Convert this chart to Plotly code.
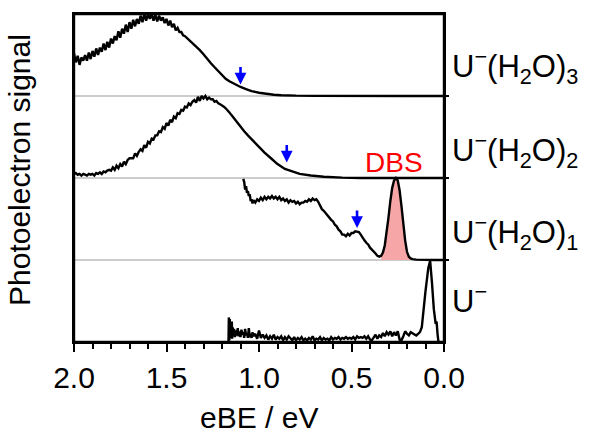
import plotly.graph_objects as go

# ---------------- data ----------------
species_labels = ["U<sup>−</sup>", "U<sup>−</sup>(H<sub>2</sub>O)<sub>1</sub>",
                  "U<sup>−</sup>(H<sub>2</sub>O)<sub>2</sub>", "U<sup>−</sup>(H<sub>2</sub>O)<sub>3</sub>"]
tick_values = [2.0, 1.5, 1.0, 0.5, 0.0]
tick_labels = ["2.0", "1.5", "1.0", "0.5", "0.0"]
minor_values = [1.9, 1.8, 1.7, 1.6, 1.4, 1.3, 1.2, 1.1, 0.9, 0.8, 0.7, 0.6, 0.4, 0.3, 0.2, 0.1]

# U-(H2O)3
x_u3 = [2.00, 1.99, 1.98, 1.97, 1.96, 1.95, 1.94, 1.93, 1.92, 1.91,
        1.90, 1.89, 1.88, 1.87, 1.86, 1.85, 1.84, 1.83, 1.82, 1.81,
        1.80, 1.79, 1.78, 1.77, 1.76, 1.75, 1.74, 1.73, 1.72, 1.71,
        1.70, 1.69, 1.68, 1.67, 1.66, 1.65, 1.64, 1.63, 1.62, 1.61,
        1.60, 1.59, 1.58, 1.57, 1.56, 1.55, 1.54, 1.53, 1.52, 1.51,
        1.50, 1.49, 1.48, 1.47, 1.46, 1.45, 1.44, 1.43, 1.42, 1.41,
        1.40, 1.38, 1.35, 1.32, 1.30, 1.28, 1.26, 1.24, 1.22, 1.20,
        1.18, 1.16, 1.14, 1.12, 1.10, 1.07, 1.04, 1.00, 0.96, 0.92,
        0.88, 0.84, 0.80, 0.70, 0.60, 0.40, 0.20, 0.00]
y_u3 = [0.52, 0.41, 0.49, 0.38, 0.47, 0.43, 0.50, 0.43, 0.53, 0.45,
        0.55, 0.48, 0.58, 0.50, 0.59, 0.54, 0.64, 0.56, 0.66, 0.59,
        0.70, 0.64, 0.73, 0.68, 0.79, 0.71, 0.82, 0.76, 0.87, 0.78,
        0.90, 0.82, 0.93, 0.85, 0.94, 0.88, 0.98, 0.90, 1.00, 0.92,
        1.00, 0.94, 1.00, 0.92, 0.99, 0.91, 0.98, 0.92, 0.96, 0.89,
        0.94, 0.86, 0.92, 0.84, 0.88, 0.80, 0.83, 0.78, 0.78, 0.74,
        0.73, 0.69, 0.62, 0.56, 0.51, 0.45, 0.40, 0.35, 0.30, 0.25,
        0.21, 0.18, 0.155, 0.13, 0.11, 0.085, 0.06, 0.04, 0.025, 0.015,
        0.01, 0.006, 0.004, 0.002, 0.0, 0.0, 0.0, 0.0]

# U-(H2O)2
x_u2 = [2.00, 1.99, 1.98, 1.97, 1.96, 1.95, 1.94, 1.93, 1.92, 1.91,
        1.90, 1.89, 1.88, 1.87, 1.86, 1.85, 1.84, 1.83, 1.82, 1.81,
        1.80, 1.79, 1.78, 1.77, 1.76, 1.75, 1.74, 1.73, 1.72, 1.71,
        1.70, 1.69, 1.68, 1.67, 1.66, 1.65, 1.64, 1.63, 1.62, 1.61,
        1.60, 1.59, 1.58, 1.57, 1.56, 1.55, 1.54, 1.53, 1.52, 1.51,
        1.50, 1.49, 1.48, 1.47, 1.46, 1.45, 1.44, 1.43, 1.42, 1.41,
        1.40, 1.39, 1.38, 1.37, 1.36, 1.35, 1.34, 1.33, 1.32, 1.31,
        1.30, 1.29, 1.28, 1.27, 1.26, 1.25, 1.24, 1.23, 1.22, 1.21,
        1.20, 1.19, 1.18, 1.17, 1.16, 1.15, 1.14, 1.12, 1.10, 1.08,
        1.06, 1.03, 1.00, 0.97, 0.94, 0.90, 0.86, 0.82, 0.78, 0.72,
        0.65, 0.55, 0.45, 0.20, 0.00]
y_u2 = [0.05, 0.06, 0.04, 0.05, 0.03, 0.05, 0.04, 0.03, 0.05, 0.04,
        0.05, 0.03, 0.06, 0.05, 0.07, 0.05, 0.08, 0.07, 0.09, 0.10,
        0.09, 0.13, 0.10, 0.15, 0.12, 0.17, 0.14, 0.20, 0.17, 0.22,
        0.24, 0.24, 0.24, 0.30, 0.27, 0.32, 0.35, 0.33, 0.40, 0.37,
        0.44, 0.42, 0.48, 0.47, 0.52, 0.52, 0.57, 0.56, 0.62, 0.60,
        0.67, 0.64, 0.71, 0.68, 0.75, 0.73, 0.79, 0.78, 0.83, 0.82,
        0.87, 0.86, 0.91, 0.89, 0.93, 0.95, 0.92, 0.99, 0.94, 1.00,
        0.97, 1.00, 0.96, 0.98, 0.96, 0.96, 0.93, 0.94, 0.91, 0.90,
        0.89, 0.87, 0.85, 0.83, 0.80, 0.77, 0.74, 0.69, 0.63, 0.57,
        0.52, 0.45, 0.37, 0.31, 0.25, 0.17, 0.11, 0.08, 0.05, 0.03,
        0.015, 0.005, 0.0, 0.0, 0.0]

# U-(H2O)1
x_u1 = [1.085, 1.08, 1.075, 1.07, 1.065, 1.06, 1.055, 1.05, 1.045, 1.04, 1.035, 1.03,
        1.02, 1.01, 1.00, 0.99, 0.98, 0.97, 0.96, 0.95, 0.94, 0.93,
        0.92, 0.91, 0.90, 0.89, 0.88, 0.87, 0.86, 0.85, 0.84, 0.83,
        0.82, 0.81, 0.80, 0.79, 0.78, 0.77, 0.76, 0.75, 0.74, 0.73,
        0.72, 0.71, 0.70, 0.69, 0.68, 0.67, 0.66, 0.65, 0.64, 0.63,
        0.62, 0.61, 0.60, 0.59, 0.58, 0.57, 0.56, 0.55, 0.54, 0.53,
        0.52, 0.51, 0.50, 0.49, 0.48, 0.47, 0.46, 0.45, 0.44, 0.43,
        0.42, 0.41, 0.40, 0.39, 0.38, 0.37, 0.36, 0.35, 0.34, 0.33,
        0.32, 0.31, 0.30, 0.29, 0.28, 0.27, 0.26, 0.25, 0.24, 0.23,
        0.22, 0.21, 0.20, 0.19, 0.18, 0.17, 0.15, 0.10, 0.05, 0.00]
y_u1 = [0.99, 0.95, 0.86, 0.90, 0.82, 0.84, 0.78, 0.80, 0.72, 0.74, 0.69, 0.73,
        0.70, 0.74, 0.72, 0.76, 0.73, 0.77, 0.74, 0.77, 0.75, 0.78,
        0.75, 0.77, 0.74, 0.77, 0.73, 0.75, 0.72, 0.74, 0.70, 0.73,
        0.71, 0.72, 0.69, 0.71, 0.68, 0.70, 0.70, 0.72, 0.71, 0.74,
        0.72, 0.75, 0.73, 0.74, 0.71, 0.66, 0.62, 0.60, 0.57, 0.55,
        0.52, 0.49, 0.47, 0.43, 0.41, 0.37, 0.35, 0.31, 0.31, 0.29,
        0.32, 0.30, 0.33, 0.33, 0.35, 0.34, 0.34, 0.31, 0.27, 0.24,
        0.21, 0.19, 0.15, 0.13, 0.10, 0.08, 0.05, 0.04, 0.05, 0.09,
        0.18, 0.33, 0.52, 0.72, 0.88, 0.97, 1.00, 0.97, 0.85, 0.66,
        0.44, 0.24, 0.10, 0.04, 0.02, 0.01, 0.005, 0.0, 0.0, 0.0]

# U-
x_u0 = [1.165, 1.163, 1.160, 1.158, 1.155, 1.152, 1.150, 1.147, 1.145, 1.142,
        1.140, 1.135, 1.130, 1.125, 1.120, 1.115, 1.110, 1.105, 1.100, 1.095,
        1.090, 1.085, 1.080, 1.075, 1.070, 1.065, 1.060, 1.055, 1.050, 1.045,
        1.040, 1.035, 1.030, 1.020, 1.010, 1.000, 0.990, 0.980, 0.970, 0.960,
        0.950, 0.940, 0.930, 0.920, 0.910, 0.900, 0.890, 0.880, 0.870, 0.860,
        0.850, 0.840, 0.830, 0.820, 0.810, 0.800, 0.790, 0.780, 0.770, 0.760,
        0.750, 0.740, 0.730, 0.720, 0.710, 0.700, 0.690, 0.680, 0.670, 0.660,
        0.650, 0.640, 0.630, 0.620, 0.610, 0.600, 0.590, 0.580, 0.570, 0.560,
        0.550, 0.540, 0.530, 0.520, 0.510, 0.500, 0.490, 0.480, 0.470, 0.460,
        0.450, 0.440, 0.430, 0.420, 0.410, 0.400, 0.390, 0.380, 0.370, 0.360,
        0.350, 0.340, 0.330, 0.320, 0.310, 0.300, 0.290, 0.280, 0.270, 0.260,
        0.250, 0.240, 0.230, 0.220, 0.210, 0.200, 0.190, 0.180, 0.170, 0.160,
        0.150, 0.140, 0.130, 0.120, 0.115, 0.100, 0.085, 0.075, 0.065, 0.055,
        0.045, 0.040, 0.035, 0.030]
y_u0 = [0.00, 0.30, 0.02, 0.28, 0.05, 0.22, 0.08, 0.25, 0.04, 0.18,
        0.10, 0.16, 0.06, 0.14, 0.08, 0.17, 0.07, 0.13, 0.06, 0.15,
        0.09, 0.12, 0.05, 0.16, 0.08, 0.11, 0.05, 0.17, 0.06, 0.10,
        0.05, 0.12, 0.07, 0.10, 0.04, 0.14, 0.05, 0.09, 0.05, 0.08,
        0.03, 0.07, 0.04, 0.09, 0.03, 0.06, 0.04, 0.07, 0.02, 0.06,
        0.03, 0.07, 0.04, 0.02, 0.06, 0.02, 0.05, 0.03, 0.06, 0.02,
        0.04, 0.02, 0.05, 0.03, 0.07, 0.02, 0.04, 0.03, 0.06, 0.02,
        0.05, 0.03, 0.04, 0.02, 0.06, 0.03, 0.05, 0.04, 0.06, 0.03,
        0.05, 0.04, 0.06, 0.04, 0.05, 0.04, 0.06, 0.03, 0.07, 0.05,
        0.06, 0.05, 0.07, 0.04, 0.07, 0.03, 0.02, 0.06, 0.09, 0.04,
        0.08, 0.06, 0.11, 0.07, 0.12, 0.09, 0.13, 0.07, 0.12, 0.08,
        0.13, 0.03, 0.02, 0.07, 0.13, 0.10, 0.08, 0.12, 0.11, 0.09,
        0.08, 0.10, 0.12, 0.18, 0.30, 0.62, 0.90, 0.99, 0.72, 0.40,
        0.22, 0.25, 0.10, 0.00]

spectra_x = [x_u0, x_u1, x_u2, x_u3]
spectra_y = [y_u0, y_u1, y_u2, y_u3]
for xs, ys in zip(spectra_x, spectra_y):
    assert len(xs) == len(ys), (len(xs), len(ys))

# DBS peak range (eV) and onset arrows (eV, height within panel)
dbs_range = (0.34, 0.18)
arrow_x = [0.47, 0.85, 1.10]       # for U-(H2O)1, U-(H2O)2, U-(H2O)3
arrow_y = [0.39, 0.19, 0.14]
arrow_panel = [1, 2, 3]

FONT = "Liberation Sans, Arial, sans-serif"

fig = go.Figure()

# grey baselines between panels (drawn underneath)
for lvl in [1, 2, 3]:
    fig.add_trace(go.Scatter(x=[2.0, 0.0], y=[lvl, lvl], mode="lines",
                             line=dict(color="#cccccc", width=2),
                             hoverinfo="skip", showlegend=False))

# DBS pink fill
sub = [(xv, yv) for xv, yv in zip(x_u1, y_u1) if dbs_range[1] <= xv <= dbs_range[0]]
sx = [p[0] for p in sub]
sy = [1 + p[1] for p in sub]
fig.add_trace(go.Scatter(x=sx, y=[1] * len(sx), mode="lines", line=dict(width=0),
                         yaxis="y2", hoverinfo="skip", showlegend=False))
fig.add_trace(go.Scatter(x=sx, y=sy, mode="lines", line=dict(width=0),
                         fill="tonexty", fillcolor="rgb(246,166,166)",
                         yaxis="y2", hoverinfo="skip", showlegend=False))

# spectra, each offset by its panel index
for i, (xs, ys) in enumerate(zip(spectra_x, spectra_y)):
    fig.add_trace(go.Scatter(x=xs, y=[i + v for v in ys], mode="lines",
                             line=dict(color="black", width=2.4),
                             yaxis="y2", hoverinfo="skip", showlegend=False))

annotations = []
# arrows
for ax_, ay_, p in zip(arrow_x, arrow_y, arrow_panel):
    annotations.append(dict(x=ax_, y=p + ay_, xref="x", yref="y", text="",
                            showarrow=True, ax=0, ay=-19, arrowhead=2,
                            arrowsize=0.9, arrowwidth=2.6, arrowcolor="#0000ff"))
# species labels
label_y = [0.53, 1.34, 2.34, 3.36]
for lab, ly in zip(species_labels, label_y):
    annotations.append(dict(x=1, xref="paper", xanchor="left", xshift=6,
                            y=ly, yref="y", yanchor="middle", text=lab,
                            showarrow=False, font=dict(size=31, family=FONT, color="black")))
# DBS text
annotations.append(dict(x=0.27, y=2.19, xref="x", yref="y", text="DBS", showarrow=False,
                        font=dict(size=28, family=FONT, color="#ff0000")))
# axis titles
annotations.append(dict(x=0, xref="paper", xanchor="center", xshift=-55,
                        y=0.5, yref="paper", yanchor="middle", yshift=8,
                        text="Photoelectron signal", textangle=-90, showarrow=False,
                        font=dict(size=30, family=FONT, color="black")))
annotations.append(dict(x=0.5, xref="paper", xanchor="center",
                        y=0, yref="paper", yanchor="top", yshift=-57,
                        text="eBE / eV", showarrow=False,
                        font=dict(size=30, family=FONT, color="black")))

fig.update_layout(
    width=590, height=437,
    margin=dict(l=74, r=146, t=12, b=95),
    plot_bgcolor="white", paper_bgcolor="white",
    font=dict(family=FONT, size=30, color="black"),
    showlegend=False,
    annotations=annotations,
    shapes=[dict(type="rect", xref="paper", yref="paper", x0=0, x1=1, y0=0, y1=1,
                 line=dict(color="black", width=2.4), layer="above")],
    xaxis=dict(range=[2.0, 0.0], tickmode="array", tickvals=tick_values, ticktext=tick_labels,
               ticks="outside", ticklen=8, tickwidth=2, tickcolor="black",
               minor=dict(tickvals=minor_values, ticks="outside", ticklen=5,
                          tickwidth=1.5, tickcolor="black", showgrid=False),
               showline=True, linewidth=2, linecolor="black", mirror=True,
               showgrid=False, zeroline=False, tickfont=dict(size=30, family=FONT)),
    yaxis=dict(range=[0, 4], showline=True, linewidth=2, linecolor="black", mirror=True,
               showticklabels=False, ticks="", showgrid=False, zeroline=False),
    yaxis2=dict(range=[0, 4], overlaying="y", side="right", tickmode="array",
                tickvals=[1, 2, 3], ticks="outside", ticklen=4, tickwidth=2,
                tickcolor="black", showticklabels=False, showgrid=False,
                zeroline=False, showline=False),
)

fig.write_html("out.html", config={"displayModeBar": False},
               post_script="document.body.style.margin='0';document.body.style.padding='0';")
